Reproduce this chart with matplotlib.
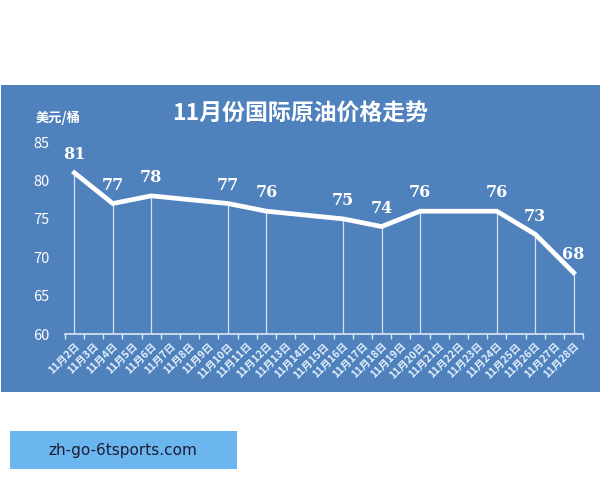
import matplotlib.pyplot as plt
import matplotlib.patches as patches
import numpy as np

plt.rcParams['font.family'] = ['Noto Sans CJK SC', 'DejaVu Sans']

# 11月2日 .. 11月28日, prices only on the days that carry a label
days = [f'11月{d}日' for d in range(2, 29)]
price_days = [2, 4, 6, 10, 12, 16, 18, 20, 24, 26, 28]
prices = [81, 77, 78, 77, 76, 75, 74, 76, 76, 73, 68]
yticks = [60, 65, 70, 75, 80, 85]

panel_blue = '#4F81BD'

fig = plt.figure(figsize=(6, 4.8), dpi=100)
fig.patch.set_facecolor('white')

# blue chart panel
fig.patches.append(patches.Rectangle((0.002, 0.183), 0.998, 0.64,
                                     transform=fig.transFigure,
                                     facecolor=panel_blue, edgecolor='none',
                                     zorder=-10))

ax = fig.add_axes([0.108, 0.304, 0.864, 0.40])
ax.set_facecolor('none')

xpos = [days.index(f'11月{d}日') for d in price_days]
ax.plot(xpos, prices, color='white', lw=3.4, solid_joinstyle='miter', zorder=3)
ax.vlines(xpos, 60, prices, color='#d4e2f2', lw=0.9, zorder=2)

for x, v in zip(xpos, prices):
    ax.annotate(str(v), (x, v), xytext=(0, 7), textcoords='offset points',
                ha='center', va='bottom', color='white', fontsize=11.5,
                fontweight='bold', family='DejaVu Serif')

ax.set_xlim(-0.5, len(days) - 0.5)
ax.set_ylim(60, 85)
ax.set_yticks(yticks)
ax.tick_params(axis='y', length=0, pad=11, labelcolor='white', labelsize=10.5)

ax.set_xticks(np.arange(len(days)))
ax.set_xticklabels(days, rotation=45, ha='right', va='top',
                   rotation_mode='anchor', fontsize=7.5, fontweight='bold',
                   color='#e4f0fc')
ax.set_xticks(np.arange(-0.5, len(days)), minor=True)
ax.tick_params(axis='x', which='major', length=0, pad=5)
ax.tick_params(axis='x', which='minor', length=3.5, color='#dce8f5', width=1,
               direction='out')

for s in ['top', 'right', 'left']:
    ax.spines[s].set_visible(False)
ax.spines['bottom'].set_color('#dce8f5')
ax.spines['bottom'].set_linewidth(1.2)

fig.text(0.5, 0.762, '11月份国际原油价格走势', ha='center', va='center',
         color='white', fontsize=16.5, fontweight='bold')
fig.text(0.06, 0.755, '美元/桶', ha='left', va='center', color='white',
         fontsize=9.5, fontweight='bold')

# watermark box underneath
fig.patches.append(patches.Rectangle((0.017, 0.023), 0.378, 0.079,
                                     transform=fig.transFigure,
                                     facecolor='#6CB6F0', edgecolor='none',
                                     zorder=-10))
fig.text(0.205, 0.0625, 'zh-go-6tsports.com', ha='center', va='center',
         color='#1a1f33', fontsize=11, family='DejaVu Sans')

fig.savefig('out.png', dpi=100)
